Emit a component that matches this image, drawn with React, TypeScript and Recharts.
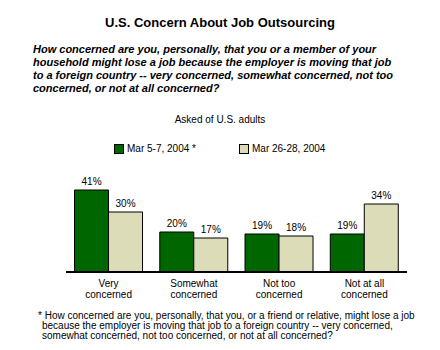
import { BarChart, Bar, XAxis, YAxis, LabelList } from 'recharts'

const categories = ['Very concerned', 'Somewhat concerned', 'Not too concerned', 'Not at all concerned']
const march5 = [41, 20, 19, 19]
const march26 = [30, 17, 18, 34]
const seriesNames = ['Mar 5-7, 2004 *', 'Mar 26-28, 2004']

const questionLines = [
  'How concerned are you, personally, that you or a member of your',
  'household might lose a job because the employer is moving that job',
  'to a foreign country -- very concerned, somewhat concerned, not too',
  'concerned, or not at all concerned?',
]
const footnoteLines = [
  '* How concerned are you, personally, that you, or a friend or relative, might lose a job',
  'because the employer is moving that job to a foreign country -- very concerned,',
  'somewhat concerned, not too concerned, or not at all concerned?',
]

const data = categories.map((name, i) => ({ name, a: march5[i], b: march26[i] }))

const FONT = '"Liberation Sans", Arial, sans-serif'
const GREEN = '#006600'
const BEIGE = '#dcdcb9'

function CategoryTick({ x, y, payload }: { x?: number; y?: number; payload?: { value: string } }) {
  const words = String(payload?.value ?? '').split(' ')
  const last = words[words.length - 1]
  const first = words.slice(0, -1).join(' ')
  return (
    <text x={x} y={y} textAnchor="middle" fontSize={10} fontFamily={FONT} fill="#000">
      <tspan x={x} dy={7}>{first}</tspan>
      <tspan x={x} dy={11}>{last}</tspan>
    </text>
  )
}

export default function App() {
  return (
    <div style={{ position: 'absolute', left: 0, top: 0, width: 440, height: 350, background: '#fff', fontFamily: FONT }}>
      <div style={{ position: 'absolute', top: 15, left: 0, width: 440, textAlign: 'center', fontSize: 13, fontWeight: 'bold' }}>
        U.S. Concern About Job Outsourcing
      </div>
      <div style={{ position: 'absolute', top: 43, left: 33, fontSize: 11, fontWeight: 'bold', fontStyle: 'italic', lineHeight: '13px', whiteSpace: 'nowrap' }}>
        {questionLines.map(l => <div key={l}>{l}</div>)}
      </div>
      <div style={{ position: 'absolute', top: 114, left: 0, width: 440, textAlign: 'center', fontSize: 10 }}>
        Asked of U.S. adults
      </div>
      {seriesNames.map((s, i) => (
        <div key={s} style={{ position: 'absolute', top: 143, left: i === 0 ? 114 : 239, display: 'flex', alignItems: 'center', fontSize: 10, whiteSpace: 'nowrap' }}>
          <span style={{ display: 'inline-block', width: 8, height: 8, border: '1px solid #000', background: i === 0 ? GREEN : BEIGE, marginRight: 3 }} />
          {s}
        </div>
      ))}
      <div style={{ position: 'absolute', top: 0, left: 0 }}>
        <BarChart
          width={440}
          height={350}
          data={data}
          margin={{ top: 172, right: 33, bottom: 48, left: 66 }}
          barCategoryGap="10%"
          barGap={0}
        >
          <YAxis hide domain={[0, 50]} />
          <XAxis
            dataKey="name"
            axisLine={{ stroke: '#000', strokeWidth: 2 }}
            tickLine={false}
            tick={<CategoryTick />}
            interval={0}
            height={30}
          />
          <Bar dataKey="a" fill={GREEN} stroke="#000" strokeWidth={1} isAnimationActive={false}>
            <LabelList dataKey="a" position="top" formatter={(v: number) => `${v}%`} fontSize={10} fontFamily={FONT} fill="#000" />
          </Bar>
          <Bar dataKey="b" fill={BEIGE} stroke="#000" strokeWidth={1} isAnimationActive={false}>
            <LabelList dataKey="b" position="top" formatter={(v: number) => `${v}%`} fontSize={10} fontFamily={FONT} fill="#000" />
          </Bar>
        </BarChart>
      </div>
      <div style={{ position: 'absolute', top: 311, left: 38, fontSize: 10, lineHeight: '10px', whiteSpace: 'nowrap' }}>
        {footnoteLines.map((l, i) => <div key={l} style={{ paddingLeft: i === 0 ? 0 : 4 }}>{l}</div>)}
      </div>
    </div>
  )
}
